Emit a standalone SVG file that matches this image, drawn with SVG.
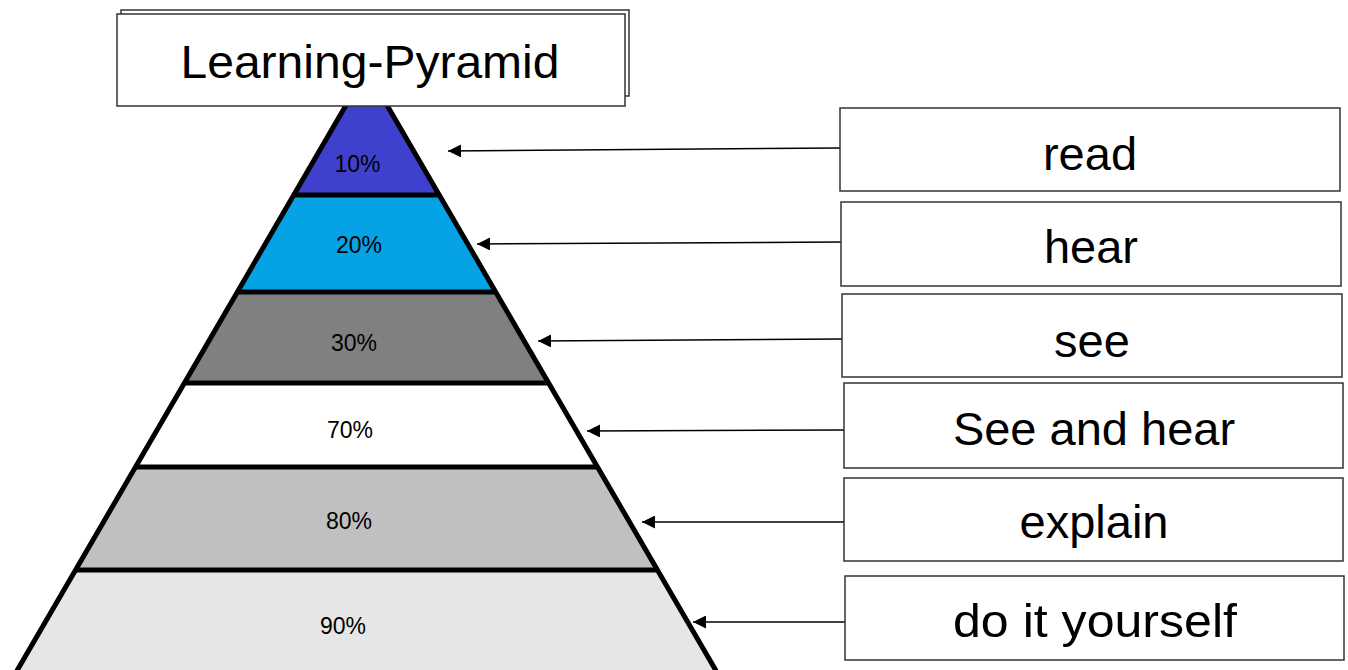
<svg xmlns="http://www.w3.org/2000/svg" width="1348" height="670" viewBox="0 0 1348 670">
<defs>
<marker id="ah" viewBox="0 0 10 10" refX="10" refY="5" markerWidth="13" markerHeight="13" markerUnits="userSpaceOnUse" orient="auto-start-reverse"><path d="M0,0 L10,5 L0,10 z" fill="#000"/></marker>
<style>
.box{fill:#fff;stroke:#333;stroke-width:1.5}
.lbl{font-family:"Liberation Sans",Arial,sans-serif;font-size:47px;fill:#000;text-anchor:middle}
.pct{font-family:"Liberation Sans",Arial,sans-serif;font-size:23px;fill:#000;text-anchor:middle}
.sep{stroke:#000;stroke-width:5}
.conn{stroke:#000;stroke-width:1.5;fill:none;marker-end:url(#ah)}
</style>
</defs>
<rect width="1348" height="670" fill="#fff"/>
<g id="pyramid">
<polygon points="366.5,70 439.25,195 293.75,195" fill="#4040cf"/>
<polygon points="293.75,195 439.25,195 495.7,292 237.3,292" fill="#05a2e6"/>
<polygon points="237.3,292 495.7,292 548.7,383 184.3,383" fill="#808080"/>
<polygon points="184.3,383 548.7,383 597.6,467 135.4,467" fill="#ffffff"/>
<polygon points="135.4,467 597.6,467 657.5,570 75.5,570" fill="#c0c0c0"/>
<polygon points="75.5,570 657.5,570 715.7,670 17.3,670" fill="#e6e6e6"/>
<line class="sep" x1="293.75" y1="195" x2="439.25" y2="195"/>
<line class="sep" x1="237.3" y1="292" x2="495.7" y2="292"/>
<line class="sep" x1="184.3" y1="383" x2="548.7" y2="383"/>
<line class="sep" x1="135.4" y1="467" x2="597.6" y2="467"/>
<line class="sep" x1="75.5" y1="570" x2="657.5" y2="570"/>
<polyline points="16.8,671 366.5,70 716.2,671" fill="none" stroke="#000" stroke-width="5" stroke-linejoin="miter"/>
<text class="pct" x="357.5" y="172">10%</text>
<text class="pct" x="359" y="253">20%</text>
<text class="pct" x="354" y="351">30%</text>
<text class="pct" x="350" y="438">70%</text>
<text class="pct" x="349" y="529">80%</text>
<text class="pct" x="343" y="634">90%</text>
</g>
<g id="title">
<rect class="box" x="121" y="10" width="508" height="86"/>
<rect class="box" x="117" y="14" width="508" height="92"/>
<text class="lbl" x="370" y="78" font-size="53" textLength="379" lengthAdjust="spacingAndGlyphs">Learning-Pyramid</text>
</g>
<g id="connectors">
<line class="conn" x1="840" y1="148" x2="448" y2="151"/>
<line class="conn" x1="841" y1="242" x2="477" y2="244"/>
<line class="conn" x1="842" y1="339" x2="538" y2="341"/>
<line class="conn" x1="844" y1="430" x2="587" y2="431"/>
<line class="conn" x1="844" y1="522" x2="642" y2="522"/>
<line class="conn" x1="845" y1="622" x2="693" y2="622"/>
</g>
<g id="read"><rect class="box" x="840" y="108" width="500" height="83"/><text class="lbl" x="1090" y="170">read</text></g>
<g id="hear"><rect class="box" x="841" y="202" width="500" height="84"/><text class="lbl" x="1091" y="263">hear</text></g>
<g id="see"><rect class="box" x="842" y="294" width="500" height="83"/><text class="lbl" x="1092" y="357">see</text></g>
<g id="see-and-hear"><rect class="box" x="844" y="383" width="499" height="85"/><text class="lbl" x="1094" y="445">See and hear</text></g>
<g id="explain"><rect class="box" x="844" y="478" width="499" height="83"/><text class="lbl" x="1094" y="538">explain</text></g>
<g id="do-it-yourself"><rect class="box" x="845" y="576" width="499" height="84"/><text class="lbl" x="1095" y="637" textLength="284" lengthAdjust="spacingAndGlyphs">do it yourself</text></g>
</svg>
